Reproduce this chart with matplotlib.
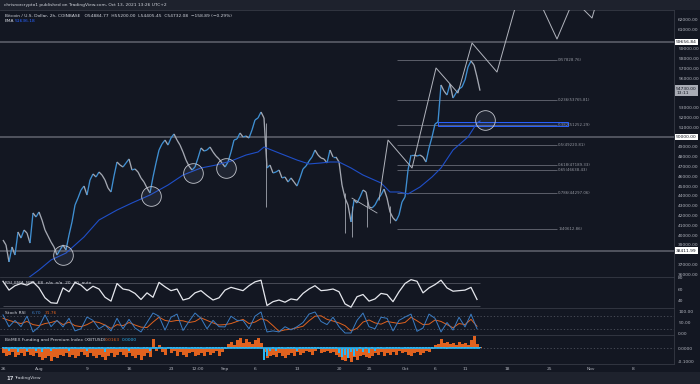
import numpy as np
import matplotlib
matplotlib.use('Agg')
import matplotlib.pyplot as plt
from matplotlib.collections import LineCollection
from matplotlib.patches import Rectangle

# ---- data (time axis in days since Jul 26, 00:00) ----
# 12-hour samples of BTCUSD close
price_close = [
    39490, 38980, 37250, 38780, 37960, 40310, 39690, 40510, 40200, 39180,
    42250, 41840, 42350, 41530, 40510, 39900, 39290, 38780, 37960, 38470,
    38980, 38470, 40000, 41330, 43060, 43780, 44590, 45000, 44080, 45610,
    46230, 45920, 46430, 46120, 45610, 44800, 44390, 46020, 47450, 47140,
    46940, 47350, 47760, 46630, 46740, 46430, 45820, 45410, 44800, 44290,
    45920, 47350, 48670, 49290, 49690, 49180, 49900, 50310, 49690, 49180,
    48470, 47650, 47040, 46630, 46940, 47860, 48880, 48570, 48670, 48980,
    48470, 48060, 47760, 47350, 46940, 47450, 48470, 49690, 49800, 50410,
    50000, 50100, 49900, 50720, 51740, 51940, 52550, 51940, 46840, 47140,
    46330, 46430, 46630, 45820, 45920, 45410, 45820, 45410, 45000, 45820,
    46740, 47040, 47550, 47960, 48670, 48160, 47860, 47760, 47350, 48670,
    47960, 47960, 47450, 45100, 43780, 43060, 41330, 43570, 43270, 43880,
    44590, 44390, 42860, 42760, 43060, 43670, 44080, 44690, 43780, 42350,
    41740, 41430, 42040, 43370, 43880, 46630, 48160, 48160, 48060, 48160,
    47960, 47450, 48880, 50000, 51330, 51530, 55310, 54690, 54290, 55410,
    53980, 54490, 54900, 55100, 55820, 57140, 57760, 57350, 56120, 54730,
]
price_day = np.arange(len(price_close)) * 0.5

wick_day = [43.83, 57.0, 58.17, 60.67, 64.5]
wick_high = [51430, 44290, 43000, 43500, 43000]
wick_low = [42860, 40200, 39800, 40800, 41200]

ema_day = [3.5, 6, 8, 10.5, 13.5, 16, 19, 21.5, 24.5, 27.5, 30, 33, 35.5, 38,
           40.5, 42.5, 43.5, 46, 49, 51, 53, 54.5, 56, 58, 60, 63, 64.5, 66,
           67.5, 69.5, 71.5, 73, 75, 77.5, 79, 79.5]
ema = [35300, 36430, 37450, 38160, 39800, 41530, 42550, 43270, 44080, 45100,
       46120, 46840, 47140, 47550, 48160, 48470, 48980, 48370, 47650, 47250,
       47350, 47450, 47450, 46840, 46120, 45310, 44390, 44390, 44190, 44900,
       45920, 46840, 48670, 50000, 51430, 51640]

levels = [59656.84, 50000.00, 38411.99]

zigzag_day = [62.67, 64.17, 68.17, 72.17, 75.83, 78.17, 82.33, 87.08, 92.33, 95.1, 98.17, 99.5]
zigzag_price = [43570, 49690, 46840, 57040, 54490, 59590, 56630, 66920, 60000, 64020, 62140, 65000]

trend_day = [58.17, 62.33]
trend_price = [43760, 42250]

circle_day = [10.0, 24.67, 31.67, 37.17, 80.33]
circle_price = [37940, 43980, 46330, 46840, 51735]

fib_high = 57828.76
fib_low = 40612.86
fib_ratios = [0, 0.236, 0.382, 0.5, 0.618, 0.65, 0.786, 1]
fib_start, fib_end = 65.67, 92.33

zone_day = (72.5, 94.17)
zone_price = (51120, 51530)

# daily RSI and Stoch RSI samples
rsi = [74, 58, 66, 70, 67, 73, 62, 44, 35, 34,
       62, 55, 72, 67, 57, 65, 60, 45, 38, 70,
       60, 58, 52, 41, 53, 45, 72, 64, 57, 60,
       40, 43, 53, 57, 48, 40, 44, 58, 63, 60,
       57, 66, 73, 76, 30, 37, 40, 36, 42, 40,
       52, 60, 66, 57, 58, 60, 55, 33, 27, 46,
       50, 38, 42, 52, 50, 37, 55, 70, 77, 74,
       53, 62, 68, 76, 62, 56, 57, 58, 63, 41]
stoch_k = [86, 30, 60, 30, 80, 5, 29, 86, 30, 60,
           29, 70, 10, 20, 76, 60, 20, 38, 10, 70,
           20, 65, 24, 5, 50, 95, 80, 14, 75, 90,
           12, 55, 95, 70, 20, 60, 30, 29, 80, 60,
           60, 20, 80, 100, 5, 10, 5, 30, 15, 30,
           50, 90, 100, 55, 40, 75, 30, 0, 0, 60,
           95, 30, 20, 75, 70, 10, 60, 76, 90, 8,
           24, 90, 70, 5, 50, 14, 75, 29, 90, 20]
stoch_d = [70, 60, 52, 45, 55, 40, 35, 45, 50, 58,
           40, 52, 35, 30, 40, 55, 50, 38, 22, 40,
           35, 50, 38, 28, 26, 52, 75, 60, 55, 60,
           58, 50, 55, 72, 60, 48, 38, 40, 45, 55,
           65, 45, 52, 68, 60, 35, 8, 15, 18, 25,
           32, 58, 80, 82, 65, 57, 48, 35, 10, 22,
           52, 62, 48, 42, 55, 50, 45, 50, 75, 58,
           40, 42, 62, 55, 40, 25, 45, 40, 65, 32]
osc_day = np.arange(len(rsi)) * 1.0

# BitMEX premium index (orange) and funding (blue), 12-hour samples
premium = [
    -0.04, -0.06, -0.05, -0.03, -0.07, -0.05, -0.04, -0.06, -0.03, -0.05,
    -0.06, -0.04, -0.07, -0.09, -0.08, -0.06, -0.10, -0.07, -0.08, -0.05,
    -0.06, -0.04, -0.07, -0.05, -0.08, -0.06, -0.03, -0.05, -0.07, -0.04,
    -0.06, -0.08, -0.05, -0.07, -0.09, -0.06, -0.04, -0.07, -0.05, -0.03,
    -0.05, -0.07, -0.04, -0.06, -0.08, -0.05, -0.09, -0.06, -0.04, -0.07,
    0.07, -0.02, 0.02, -0.03, -0.05, 0.01, -0.04, -0.02, -0.06, -0.03,
    -0.05, -0.07, -0.04, -0.03, -0.06, -0.05, -0.04, -0.06, -0.03, -0.05,
    -0.04, -0.02, -0.06, -0.03, -0.01, 0.03, 0.05, 0.02, 0.06, 0.08,
    0.04, 0.07, 0.05, 0.03, 0.06, 0.08, 0.04, -0.03, -0.08, -0.06,
    -0.05, -0.07, -0.04, -0.06, -0.08, -0.05, -0.04, -0.06, -0.03, -0.05,
    -0.04, -0.02, -0.03, -0.05, -0.02, -0.01, -0.04, -0.03, -0.02, -0.04,
    -0.03, -0.05, -0.07, -0.09, -0.10, -0.08, -0.11, -0.07, -0.09, -0.06,
    -0.05, -0.07, -0.08, -0.06, -0.04, -0.05, -0.03, -0.06, -0.04, -0.05,
    -0.03, -0.05, -0.02, -0.04, -0.03, -0.05, -0.06, -0.04, -0.03, -0.05,
    -0.04, -0.02, -0.03, -0.01, 0.02, 0.03, 0.07, 0.04, 0.05, 0.03,
    0.04, 0.02, 0.05, 0.03, 0.04, 0.02, 0.06, 0.09, 0.03, 0.01,
]
funding = [
    0.01, 0.01, -0.02, 0.01, 0.01, -0.03, 0.01, 0.01, -0.02, 0.01,
    0.01, -0.02, 0.01, -0.03, 0.01, 0.01, -0.02, 0.01, -0.01, 0.01,
    0.01, 0.01, -0.02, 0.01, 0.01, -0.01, 0.01, 0.01, -0.02, 0.01,
    0.01, -0.01, 0.01, 0.01, -0.03, 0.01, 0.01, 0.01, -0.01, 0.01,
    0.01, 0.01, -0.02, 0.01, 0.01, 0.01, -0.01, 0.01, 0.01, -0.02,
    0.01, 0.01, 0.01, 0.01, -0.01, 0.01, 0.01, 0.01, 0.01, 0.01,
    0.01, 0.01, -0.01, 0.01, 0.01, 0.01, 0.01, -0.01, 0.01, 0.01,
    0.01, 0.01, 0.01, 0.01, 0.01, 0.01, 0.01, 0.01, 0.01, 0.01,
    0.01, 0.01, 0.01, 0.01, 0.01, 0.01, 0.01, -0.09, -0.06, -0.02,
    0.01, -0.02, 0.01, 0.01, -0.01, 0.01, 0.01, 0.01, -0.02, 0.01,
    0.01, 0.01, 0.01, 0.01, 0.01, 0.01, 0.01, 0.01, 0.01, 0.01,
    0.01, 0.01, -0.04, -0.07, -0.05, -0.08, -0.03, -0.06, -0.02, 0.01,
    -0.03, 0.01, -0.04, 0.01, -0.02, 0.01, 0.01, -0.01, 0.01, 0.01,
    0.01, 0.01, 0.01, -0.01, 0.01, 0.01, 0.01, 0.01, 0.01, 0.01,
    0.01, 0.01, 0.01, 0.01, 0.01, 0.01, 0.01, 0.01, -0.01, 0.01,
    0.01, 0.01, 0.01, 0.01, 0.01, 0.01, 0.01, 0.01, 0.01, 0.01,
]

time_ticks = [0, 6, 14, 21, 28, 32.5, 37, 42, 49, 56, 61, 67, 72, 77, 84, 91, 98, 105]
time_labels = ['26', 'Aug', '9', '16', '23', '12:00', 'Sep', '6', '13', '20', '25',
               'Oct', '6', '11', '18', '25', 'Nov', '8']

main_ticks = [36000, 37000, 39000, 40000, 41000, 42000, 43000, 44000, 45000, 46000,
              47000, 48000, 49000, 51000, 52000, 53000, 56000, 57000, 58000, 59000,
              61000, 62000]

# ---- style ----
BG = '#131722'
PANEL = '#1e222d'
TXT = '#b2b5be'
UP = '#3f8fd2'
DOWN = '#a3a7b1'
FS = 3.2

fig = plt.figure(figsize=(7, 3.84), dpi=100, facecolor=BG)


def box(left, top, w, h):
    return [left / 700, 1 - (top + h) / 384, w / 700, h / 384]


fig.patches.append(Rectangle((0, 1 - 10 / 384), 1, 10 / 384, transform=fig.transFigure,
                             facecolor=PANEL, edgecolor='none', zorder=0))
fig.patches.append(Rectangle((0, 0), 1, 12 / 384, transform=fig.transFigure,
                             facecolor=PANEL, edgecolor='none', zorder=0))

ax = fig.add_axes(box(0, 10, 674, 267))
ax_rsi = fig.add_axes(box(0, 277, 674, 31), sharex=ax)
ax_sto = fig.add_axes(box(0, 308, 674, 27), sharex=ax)
ax_fund = fig.add_axes(box(0, 335, 674, 29), sharex=ax)

for a in (ax, ax_rsi, ax_sto, ax_fund):
    a.set_facecolor(BG)
    for s in a.spines.values():
        s.set_color('#363a45')
        s.set_linewidth(0.6)
    a.spines['left'].set_visible(False)
    a.yaxis.tick_right()
    a.tick_params(axis='y', length=0, labelsize=FS, labelcolor=TXT, pad=3)
    a.tick_params(axis='x', length=0, labelsize=FS, labelcolor=TXT, pad=2.5)
    a.set_xlim(-0.5, 111.83)
for a in (ax, ax_rsi, ax_sto):
    a.tick_params(axis='x', labelbottom=False)

# ---- main pane ----
ax.set_ylim(35715, 62960)
ax.set_yticks(main_ticks)
ax.set_yticklabels([f'{t:.2f}' for t in main_ticks])

for lv in levels:
    ax.axhline(lv, color='#50535e', lw=1.4, zorder=1)

pts = np.column_stack([price_day, price_close])
segs = np.stack([pts[:-1], pts[1:]], axis=1)
seg_colors = np.where(np.diff(price_close) >= 0, UP, DOWN)
ax.add_collection(LineCollection(segs, colors=seg_colors, linewidths=0.95, zorder=3))
ax.vlines(wick_day, wick_low, wick_high, color=DOWN, lw=0.6, zorder=3)

ax.plot(ema_day, ema, color='#1f4fc9', lw=0.8, zorder=4)

fib_range = fib_high - fib_low
for r in fib_ratios:
    lvl = fib_high - r * fib_range
    ax.hlines(lvl, fib_start, fib_end, color='#787b86', lw=0.5, zorder=2)
    ax.text(fib_end + 0.2, lvl, f'{r:g}({lvl:.2f})', fontsize=2.8, color='#9598a1',
            va='center', ha='left', zorder=5)

ax.add_patch(Rectangle((zone_day[0], zone_price[0]), zone_day[1] - zone_day[0],
                       zone_price[1] - zone_price[0], facecolor=(0.16, 0.38, 1.0, 0.15),
                       edgecolor='#2962ff', lw=0.7, zorder=2))

ax.plot(zigzag_day, zigzag_price, color='#b2b5be', lw=0.7, zorder=4)
ax.plot(trend_day, trend_price, color='#b2b5be', lw=0.6, zorder=4)

ax.scatter(circle_day, circle_price, s=200, facecolors=(0.75, 0.8, 0.95, 0.08),
           edgecolors='#c3c6ce', linewidths=0.6, zorder=5)

# price labels on the scale
for lv in levels:
    ax.annotate(f'{lv:.2f}', xy=(1.003, lv), xycoords=('axes fraction', 'data'),
                fontsize=FS, color='#131722', va='center', ha='left', annotation_clip=False,
                bbox=dict(boxstyle='square,pad=0.25', fc='#ffffff', ec='none'))
ax.annotate(f'{price_close[-1]:.2f}\n13:11', xy=(1.003, price_close[-1]),
            xycoords=('axes fraction', 'data'), fontsize=FS, color='#131722',
            va='center', ha='left', annotation_clip=False, linespacing=1.1,
            bbox=dict(boxstyle='square,pad=0.25', fc='#a9acb5', ec='none'))

ax.text(0.007, 0.985, 'Bitcoin / U.S. Dollar, 2h, COINBASE   O54884.77  H55200.00  '
        'L54405.45  C54732.08  \u2212158.89 (\u22120.29%)', transform=ax.transAxes,
        fontsize=FS, color='#d1d4dc', va='top', ha='left')
ax.text(0.007, 0.965, 'EMA', transform=ax.transAxes, fontsize=FS, color='#d1d4dc',
        va='top', ha='left')
ax.text(0.022, 0.965, '51636.18', transform=ax.transAxes, fontsize=FS, color='#2962ff',
        va='top', ha='left')

# ---- RSI pane ----
ax_rsi.set_ylim(25.5, 81.8)
ax_rsi.set_yticks([80, 60, 40])
ax_rsi.set_yticklabels(['80', '60', '40'])
ax_rsi.hlines([70, 30], osc_day[0], price_day[-1], color='#50535e', lw=0.6)
ax_rsi.plot(osc_day, rsi, color='#e6e8ee', lw=0.9)
ax_rsi.text(0.007, 0.88, 'RSI_EMA_MTF  68  n/a  n/a  20  30  auto', transform=ax_rsi.transAxes,
            fontsize=FS, color='#d1d4dc', va='top', ha='left')

# ---- Stoch RSI pane ----
ax_sto.set_ylim(-9.5, 119)
ax_sto.set_yticks([100, 50, 0])
ax_sto.set_yticklabels(['100.00', '50.00', '0.00'])
ax_sto.axhline(80, color='#50535e', lw=0.6, ls=(0, (1.5, 2.5)))
ax_sto.axhline(20, color='#50535e', lw=0.6, ls=(0, (1.5, 2.5)))
ax_sto.plot(osc_day, stoch_d, color='#e0621f', lw=0.7)
ax_sto.plot(osc_day, stoch_k, color='#3b7dc4', lw=0.7)
ax_sto.text(0.007, 0.9, 'Stoch RSI', transform=ax_sto.transAxes, fontsize=FS,
            color='#d1d4dc', va='top', ha='left')
ax_sto.text(0.047, 0.9, '6.70', transform=ax_sto.transAxes, fontsize=FS,
            color='#3b7dc4', va='top', ha='left')
ax_sto.text(0.066, 0.9, '31.76', transform=ax_sto.transAxes, fontsize=FS,
            color='#e0621f', va='top', ha='left')

# ---- funding pane ----
ax_fund.set_ylim(-0.123, 0.1)
ax_fund.set_yticks([0, -0.1])
ax_fund.set_yticklabels(['0.0000', '-0.1000'])
ax_fund.axhline(0, color='#50535e', lw=0.6, ls=(0, (1.5, 2.5)))
ax_fund.bar(price_day, premium, width=0.5, color='#e0621f', lw=0)
ax_fund.bar(price_day, funding, width=0.3, color='#29b6f6', lw=0)
ax_fund.hlines(0, price_day[0], price_day[-1], color='#29b6f6', lw=1.2)
ax_fund.text(0.007, 0.88, 'BitMEX Funding and Premium Index (XBTUSD)', transform=ax_fund.transAxes,
             fontsize=FS, color='#d1d4dc', va='top', ha='left')
ax_fund.text(0.156, 0.88, '0.0163', transform=ax_fund.transAxes, fontsize=FS,
             color='#e0621f', va='top', ha='left')
ax_fund.text(0.180, 0.88, '0.0000', transform=ax_fund.transAxes, fontsize=FS,
             color='#29b6f6', va='top', ha='left')
ax_fund.set_xticks(time_ticks)
ax_fund.set_xticklabels(time_labels)

# ---- header / footer ----
fig.text(4 / 700, 1 - 5 / 384, 'chrisnorcrypto1 published on TradingView.com, Oct 13, 2021 13:26 UTC+2',
         fontsize=FS, color='#d1d4dc', va='center', ha='left')
fig.text(6 / 700, 6 / 384, '17', fontsize=3.8, color='#d1d4dc', va='center', ha='left',
         fontweight='bold')
fig.text(14 / 700, 6 / 384, 'TradingView', fontsize=FS, color='#d1d4dc', va='center', ha='left')

fig.savefig('out.png', dpi=100, facecolor=BG)
